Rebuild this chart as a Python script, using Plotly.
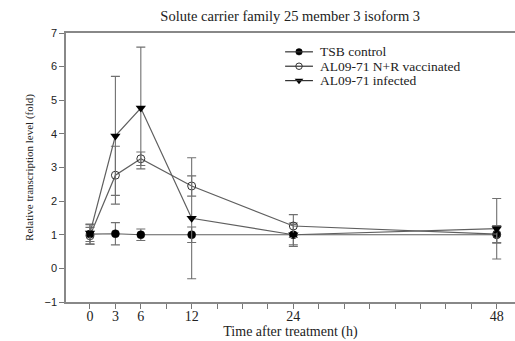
import plotly.graph_objects as go

# Sampling times (h)
hours = [0, 3, 6, 12, 24, 48]

# Relative transcription level (fold) and standard deviations
tsb_mean = [1.02, 1.03, 1.00, 1.00, 1.00, 1.00]
tsb_sd = [0.30, 0.33, 0.17, 0.23, 0.35, 0.25]

vacc_mean = [0.97, 2.77, 3.26, 2.45, 1.26, 1.02]
vacc_sd = [0.25, 0.86, 0.20, 0.30, 0.34, 0.25]

inf_mean = [1.05, 3.94, 4.77, 1.49, 1.00, 1.18]
inf_sd = [0.25, 1.77, 1.81, 1.80, 0.30, 0.90]

series_names = ["TSB control", "AL09-71 N+R vaccinated", "AL09-71 infected"]

x_tick_vals = [0, 3, 6, 12, 24, 48]
y_tick_vals = [-1, 0, 1, 2, 3, 4, 5, 6, 7]

LINE = "#5f5f5f"
ERR = "#707070"
TXT = "#222222"
SERIF = "Liberation Serif, Times New Roman, serif"
SANS = "Liberation Sans, Arial, sans-serif"

markers = [
    dict(symbol="circle", size=8, color="black", line=dict(color="black", width=0.5)),
    dict(symbol="circle-open", size=8, color="#333333", line=dict(color="#333333", width=1)),
    dict(symbol="triangle-down", size=9, color="black", line=dict(color="black", width=0)),
]

fig = go.Figure()

for name, mean, sd, marker in zip(series_names, [tsb_mean, vacc_mean, inf_mean],
                                  [tsb_sd, vacc_sd, inf_sd], markers):
    fig.add_trace(go.Scatter(
        x=hours, y=mean, name=name, mode="lines+markers",
        line=dict(color=LINE, width=1.2),
        marker=marker, showlegend=False,
        error_y=dict(type="data", array=sd, visible=True, color=ERR,
                     thickness=1.1, width=4.5),
    ))

# Compact legend: key line + marker on an overlay axis spanning the plot area,
# label text as annotations
legend_rows = [0.9300, 0.8765, 0.8230]
key_x0, key_x1, text_x = 0.488, 0.550, 0.561
for name, row, marker in zip(series_names, legend_rows, markers):
    fig.add_shape(type="line", xref="paper", yref="paper",
                  x0=key_x0, x1=key_x1, y0=row, y1=row,
                  line=dict(color="#333333", width=1.2))
    small = dict(marker)
    small["size"] = marker["size"] - 1.5
    fig.add_trace(go.Scatter(
        x=[(key_x0 + key_x1) / 2], y=[row], xaxis="x2", yaxis="y2",
        mode="markers", marker=small, showlegend=False, hoverinfo="skip",
    ))
    fig.add_annotation(text=name, xref="paper", yref="paper", x=text_x, y=row,
                       xanchor="left", yanchor="middle", showarrow=False,
                       font=dict(family=SERIF, size=13.5, color=TXT))

fig.update_layout(
    width=515, height=341,
    margin=dict(l=66, r=0, t=33, b=39),
    paper_bgcolor="white", plot_bgcolor="white",
    title=dict(text="Solute carrier family 25 member 3 isoform 3",
               x=0.5635, xanchor="center", y=0.952, yanchor="middle",
               font=dict(family=SERIF, size=14.5, color=TXT)),
    showlegend=False,
    xaxis=dict(
        range=[-2.83, 50.16], tickmode="array", tickvals=x_tick_vals,
        ticktext=[str(v) for v in x_tick_vals],
        ticks="outside", ticklen=5, tickcolor="#777", tickwidth=1,
        minor=dict(dtick=3, tick0=0, ticks="outside", ticklen=5,
                   tickcolor="#777", tickwidth=1, showgrid=False),
        showline=True, linecolor="#888", linewidth=1.5, mirror=True,
        showgrid=False, zeroline=False, ticklabelstandoff=-5,
        tickfont=dict(family=SERIF, size=14, color=TXT),
        title=dict(text="Time after treatment (h)", standoff=0,
                   font=dict(family=SERIF, size=14, color=TXT)),
    ),
    yaxis=dict(
        range=[-1, 7], tickmode="array", tickvals=y_tick_vals,
        ticks="outside", ticklen=5, tickcolor="#777", tickwidth=1,
        showline=True, linecolor="#888", linewidth=1.5,
        showgrid=False, zeroline=False,
        tickfont=dict(family=SANS, size=11, color=TXT),
        title=dict(text="Relative transcription level (fold)", standoff=9,
                   font=dict(family=SERIF, size=11, color=TXT)),
    ),
    xaxis2=dict(range=[0, 1], overlaying="x", visible=False, fixedrange=True),
    yaxis2=dict(range=[0, 1], overlaying="y", visible=False, fixedrange=True),
)

fig.write_html("out.html")
